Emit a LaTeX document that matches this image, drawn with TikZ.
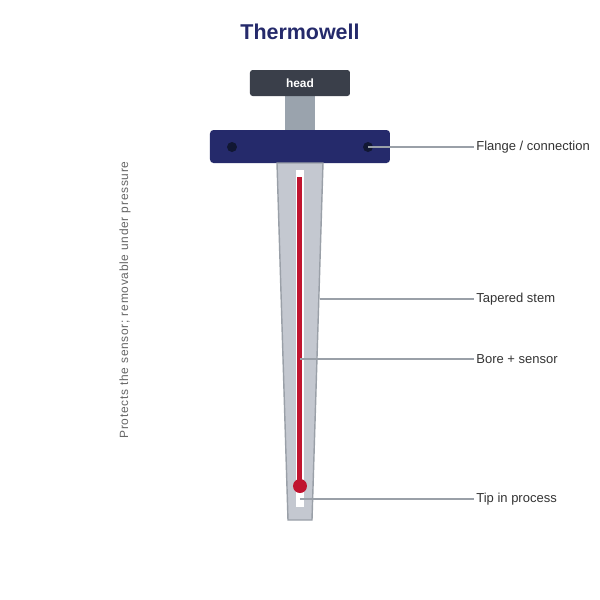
\documentclass[tikz,border=0pt]{standalone}
\usepackage{fontspec}
\setmainfont{Liberation Sans}
\definecolor{navy}{HTML}{252A6B}
\definecolor{headc}{HTML}{3A3F4A}
\definecolor{neckc}{HTML}{9AA3AD}
\definecolor{holec}{HTML}{111733}
\definecolor{stemc}{HTML}{C4C8D0}
\definecolor{stemb}{HTML}{9AA0A8}
\definecolor{redc}{HTML}{C0142F}
\definecolor{leadc}{HTML}{9AA0A8}
\definecolor{txt}{HTML}{333333}
\begin{document}
\begin{tikzpicture}[x=0.02cm,y=-0.02cm,
  lbl/.style={anchor=west,inner sep=0pt,font=\fontsize{7.4}{9}\selectfont,text=txt},
  leader/.style={draw=leadc,line width=0.6pt}]
\useasboundingbox[fill=white] (0,0) rectangle (600,600);
\node[font=\fontsize{12.2}{14}\selectfont\bfseries,text=navy] (title) at (300,32) {Thermowell};
\fill[neckc] (285,95) rectangle (315,131);
\fill[headc,rounded corners=1.5pt] (250,70) rectangle (350,96);
\node[font=\fontsize{6.8}{8}\selectfont\bfseries,text=white] (head) at (300,83) {head};
\fill[navy,rounded corners=2pt] (210,130) rectangle (390,163);
\fill[holec] (232,147) circle (5);
\fill[holec] (368,147) circle (5);
\draw[fill=stemc,draw=stemb,line width=0.8pt] (277,163) -- (323,163) -- (312,520) -- (288,520) -- cycle;
\fill[white] (296,170) rectangle (304,507);
\fill[redc] (297.5,177) rectangle (302.5,482);
\fill[redc] (300,486) circle (7);
\coordinate (f) at (368,147);
\coordinate (s) at (320,299);
\coordinate (b) at (300,359);
\coordinate (t) at (300,499);
\node[lbl] (lf) at (476,147) {Flange / connection};
\node[lbl] (ls) at (476,299) {Tapered stem};
\node[lbl] (lb) at (476,359) {Bore + sensor};
\node[lbl] (lt) at (476,499) {Tip in process};
\draw[leader] (f) -- ([xshift=-0.03cm]lf.west);
\draw[leader] (s) -- ([xshift=-0.03cm]ls.west);
\draw[leader] (b) -- ([xshift=-0.03cm]lb.west);
\draw[leader] (t) -- ([xshift=-0.03cm]lt.west);
\node[rotate=90,font=\fontsize{6.8}{8}\selectfont\addfontfeatures{LetterSpace=6},text=black!60] (side) at (125,300) {Protects the sensor; removable under pressure};
\end{tikzpicture}
\end{document}
